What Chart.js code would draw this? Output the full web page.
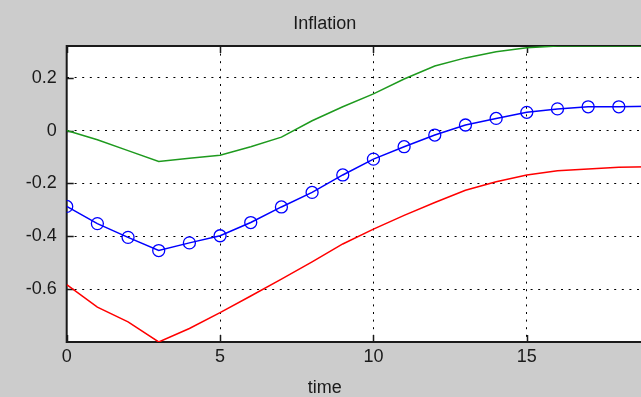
<!DOCTYPE html>
<html>
<head>
<meta charset="utf-8">
<script src="https://cdn.jsdelivr.net/npm/chart.js@4/dist/chart.umd.min.js"></script>
<style>
  html, body { margin: 0; padding: 0; overflow: hidden; background: #cccccc; }
  #wrap { width: 705px; height: 397px; }
  canvas { display: block; }
</style>
</head>
<body>
<div id="wrap"><canvas id="c" width="705" height="397"></canvas></div>
<script>
// Horizon (periods after the shock)
const steps = [0, 1, 2, 3, 4, 5, 6, 7, 8, 9, 10, 11, 12, 13, 14, 15, 16, 17, 18, 19];

// Upper band, point response, lower band
const upperBand = [0.000, -0.035, -0.076, -0.117, -0.105, -0.093, -0.061, -0.025, 0.037, 0.090,
                   0.139, 0.195, 0.244, 0.275, 0.298, 0.313, 0.320, 0.320, 0.320, 0.320];
const response  = [-0.287, -0.352, -0.404, -0.454, -0.425, -0.398, -0.348, -0.289, -0.234, -0.168,
                   -0.108, -0.061, -0.017, 0.021, 0.046, 0.069, 0.082, 0.090, 0.090, 0.092];
const lowerBand = [-0.583, -0.668, -0.724, -0.800, -0.749, -0.689, -0.626, -0.562, -0.497, -0.429,
                   -0.373, -0.321, -0.272, -0.226, -0.194, -0.168, -0.152, -0.145, -0.139, -0.137];

const xTicks = [0, 5, 10, 15];
const yTicks = [-0.6, -0.4, -0.2, 0, 0.2];

const pairs = ys => steps.map((s, i) => ({ x: s, y: ys[i] }));

// White plot area, inward tick marks and the axes box
const axesBox = {
  id: 'axesBox',
  beforeDraw(chart) {
    const { ctx, chartArea: a } = chart;
    ctx.save();
    ctx.fillStyle = '#ffffff';
    ctx.fillRect(a.left, a.top, a.right - a.left, a.bottom - a.top);
    ctx.restore();
  },
  beforeDatasetsDraw(chart) {
    const { ctx, chartArea: a, scales: { x, y } } = chart;
    const len = 7;
    ctx.save();
    ctx.strokeStyle = '#1a1a1a';
    ctx.lineWidth = 1.5;
    ctx.beginPath();
    xTicks.forEach(v => {
      const px = Math.round(x.getPixelForValue(v)) + 0.5;
      ctx.moveTo(px, a.top); ctx.lineTo(px, a.top + len);
      ctx.moveTo(px, a.bottom); ctx.lineTo(px, a.bottom - len);
    });
    yTicks.forEach(v => {
      const py = Math.round(y.getPixelForValue(v)) + 0.5;
      ctx.moveTo(a.left, py); ctx.lineTo(a.left + len, py);
      ctx.moveTo(a.right, py); ctx.lineTo(a.right - len, py);
    });
    ctx.stroke();
    ctx.lineWidth = 2;
    ctx.strokeRect(a.left, a.top, a.right - a.left, a.bottom - a.top);
    ctx.restore();
  }
};

Chart.defaults.font.family = "'Liberation Sans', Arial, sans-serif";
Chart.defaults.font.size = 18;
Chart.defaults.color = '#1a1a1a';

const dotted = { display: false, dash: [2, 5.6] };

new Chart(document.getElementById('c'), {
  type: 'line',
  data: {
    datasets: [
      {
        data: pairs(upperBand),
        borderColor: '#1e9a1e', borderWidth: 1.5,
        pointRadius: 0, tension: 0, fill: false
      },
      {
        data: pairs(lowerBand),
        borderColor: '#ff0000', borderWidth: 1.5,
        pointRadius: 0, tension: 0, fill: false
      },
      {
        data: pairs(response),
        borderColor: '#0000ff', borderWidth: 1.5,
        pointStyle: 'circle', pointRadius: 6, pointBorderWidth: 1.3,
        pointBorderColor: '#0000ff', pointBackgroundColor: 'rgba(0,0,0,0)',
        tension: 0, fill: false
      }
    ]
  },
  options: {
    responsive: false,
    animation: false,
    devicePixelRatio: 1,
    layout: { padding: { left: 0, right: 55.5, top: 0, bottom: 0 } },
    plugins: {
      legend: { display: false },
      tooltip: { enabled: false },
      title: {
        display: true, text: 'Inflation', position: 'top',
        font: { size: 18, weight: 'normal' },
        padding: { top: 13.7, bottom: 10.7 }
      },
      subtitle: {
        display: true, text: 'time', position: 'bottom',
        font: { size: 18, weight: 'normal', lineHeight: 1.05 },
        padding: { top: 0, bottom: 0 }
      }
    },
    scales: {
      x: {
        type: 'linear', min: 0, max: 19,
        afterBuildTicks: s => { s.ticks = xTicks.map(v => ({ value: v })); },
        afterFit: s => { s.height = 36.1; },
        grid: { color: '#000000', lineWidth: 1, drawTicks: false },
        border: dotted,
        ticks: { padding: 4, maxRotation: 0, autoSkip: false }
      },
      y: {
        type: 'linear', min: -0.8, max: 0.32,
        afterBuildTicks: s => { s.ticks = yTicks.map(v => ({ value: v })); },
        afterFit: s => { s.width = 66.7; },
        grid: { color: '#000000', lineWidth: 1, drawTicks: false },
        border: dotted,
        ticks: { padding: 10, callback: v => String(Math.round(v * 10) / 10) }
      }
    }
  },
  plugins: [axesBox]
});
</script>
</body>
</html>
